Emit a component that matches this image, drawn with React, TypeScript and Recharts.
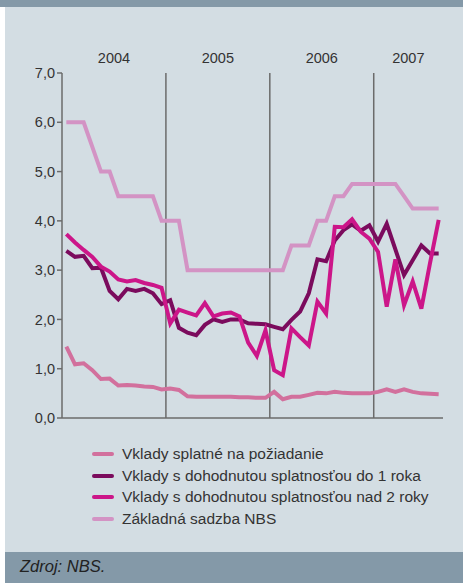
import React from 'react';
import { LineChart, Line, XAxis, YAxis, ReferenceLine } from 'recharts';

// monthly, Jan 2004 - Aug 2007
const months = Array.from({ length: 44 }, (_, i) => `${2004 + Math.floor(i / 12)}-${(i % 12) + 1}`);

const demand = [1.45, 1.09, 1.11, 0.97, 0.79, 0.8, 0.66, 0.67, 0.66, 0.64, 0.63, 0.58,
  0.6, 0.57, 0.44, 0.43, 0.43, 0.43, 0.43, 0.43, 0.42, 0.42, 0.41, 0.41,
  0.53, 0.38, 0.43, 0.43, 0.47, 0.51, 0.5, 0.53, 0.51, 0.5, 0.5, 0.5,
  0.53, 0.58, 0.53, 0.58, 0.53, 0.5, 0.49, 0.48];

const upTo1Year = [3.39, 3.27, 3.29, 3.04, 3.05, 2.58, 2.41, 2.62, 2.58, 2.62, 2.53, 2.31,
  2.39, 1.83, 1.73, 1.68, 1.89, 2.0, 1.95, 2.0, 2.0, 1.92, 1.91, 1.9,
  1.85, 1.8, 1.99, 2.16, 2.53, 3.22, 3.18, 3.6, 3.81, 3.93, 3.8, 3.91,
  3.58, 3.94, 3.42, 2.9, 3.2, 3.5, 3.34, 3.34];

const over2Years = [3.73, 3.56, 3.41, 3.27, 3.07, 2.97, 2.81, 2.77, 2.8, 2.74, 2.7, 2.64,
  1.92, 2.2, 2.14, 2.08, 2.33, 2.06, 2.12, 2.14, 2.06, 1.53, 1.26, 1.78,
  0.97, 0.87, 1.82, 1.64, 1.47, 2.36, 2.12, 3.88, 3.87, 4.03, 3.78, 3.64,
  3.37, 2.26, 3.22, 2.29, 2.77, 2.22, 3.14, 4.02];

const baseRate = [6, 6, 6, 5.5, 5, 5, 4.5, 4.5, 4.5, 4.5, 4.5, 4,
  4, 4, 3, 3, 3, 3, 3, 3, 3, 3, 3, 3,
  3, 3, 3.5, 3.5, 3.5, 4, 4, 4.5, 4.5, 4.75, 4.75, 4.75,
  4.75, 4.75, 4.75, 4.5, 4.25, 4.25, 4.25, 4.25];

const years = ['2004', '2005', '2006', '2007'];
const yearTicks = [6, 18, 30, 40];
const yearBreaks = [12, 24, 36];
const yTicks = [0, 1, 2, 3, 4, 5, 6, 7];

const series = [
  { key: 'demand', name: 'Vklady splatné na požiadanie', color: '#d2709d' },
  { key: 'upTo1Year', name: 'Vklady s dohodnutou splatnosťou do 1 roka', color: '#7b0b5d' },
  { key: 'over2Years', name: 'Vklady s dohodnutou splatnosťou nad 2 roky', color: '#cc1689' },
  { key: 'baseRate', name: 'Základná sadzba NBS', color: '#d393c4' },
];

const data = months.map((m, i) => ({
  month: m,
  x: i + 0.5,
  demand: demand[i],
  upTo1Year: upTo1Year[i],
  over2Years: over2Years[i],
  baseRate: baseRate[i],
}));

const font = '"Liberation Sans", Arial, sans-serif';

const LegendBox = () => (
  <div style={{ position: 'absolute', left: 92, top: 443, fontFamily: font, fontSize: 15.5, color: '#333' }}>
    {series.map(s => (
      <div key={s.key} style={{ display: 'flex', alignItems: 'center', height: 21.7, whiteSpace: 'nowrap' }}>
        <span style={{ display: 'inline-block', width: 22, height: 4, borderRadius: 2, background: s.color, marginRight: 8 }} />
        <span>{s.name}</span>
      </div>
    ))}
  </div>
);

export default function App() {
  return (
    <div style={{ position: 'absolute', left: 0, top: 0, width: 463, height: 583, background: '#fff', fontFamily: font }}>
      <div style={{ position: 'absolute', left: 0, top: 0, width: 463, height: 7, background: '#8499a8' }} />
      <div style={{ position: 'absolute', left: 5, top: 7, width: 458, height: 545, background: '#d3dde3' }}>
        <LineChart
          width={458}
          height={545}
          data={data}
          margin={{ top: 36, right: 20, left: 0, bottom: 133 }}
        >
          <XAxis xAxisId='top' orientation='top' dataKey='x' type='number' domain={[0, 44]}
            ticks={yearTicks} tickFormatter={(v: number) => years[yearTicks.indexOf(v)]}
            axisLine={false} tickLine={false} height={30}
            tick={{ fill: '#333', fontSize: 14.5, fontFamily: font, dy: -2 }} />
          <XAxis dataKey='x' type='number' domain={[0, 44]} ticks={[]} height={1}
            axisLine={{ stroke: '#6b6b6b', strokeWidth: 1.5 }} tickLine={false} />
          <YAxis domain={[0, 7]} ticks={yTicks} width={57} interval={0}
            tickFormatter={(v: number) => v.toFixed(1).replace('.', ',')}
            axisLine={{ stroke: '#6b6b6b', strokeWidth: 1.5 }}
            tickLine={{ stroke: '#6b6b6b', strokeWidth: 1.5 }} tickSize={5}
            tick={{ fill: '#333', fontSize: 14.5, fontFamily: font }} />
          {yearBreaks.map(b => (
            <ReferenceLine key={b} x={b} stroke='#6b6b6b' strokeWidth={1.5} />
          ))}
          {series.map(s => (
            <Line key={s.key} type='linear' dataKey={s.key} name={s.name} stroke={s.color}
              strokeWidth={4} dot={false} isAnimationActive={false} />
          ))}
        </LineChart>
      </div>
      <LegendBox />
      <div style={{ position: 'absolute', left: 5, top: 552, width: 458, height: 31, background: '#8499a8' }}>
        <span style={{ position: 'absolute', left: 15, top: 5, fontSize: 16.5, fontStyle: 'italic', color: '#222' }}>Zdroj: NBS.</span>
      </div>
    </div>
  );
}
